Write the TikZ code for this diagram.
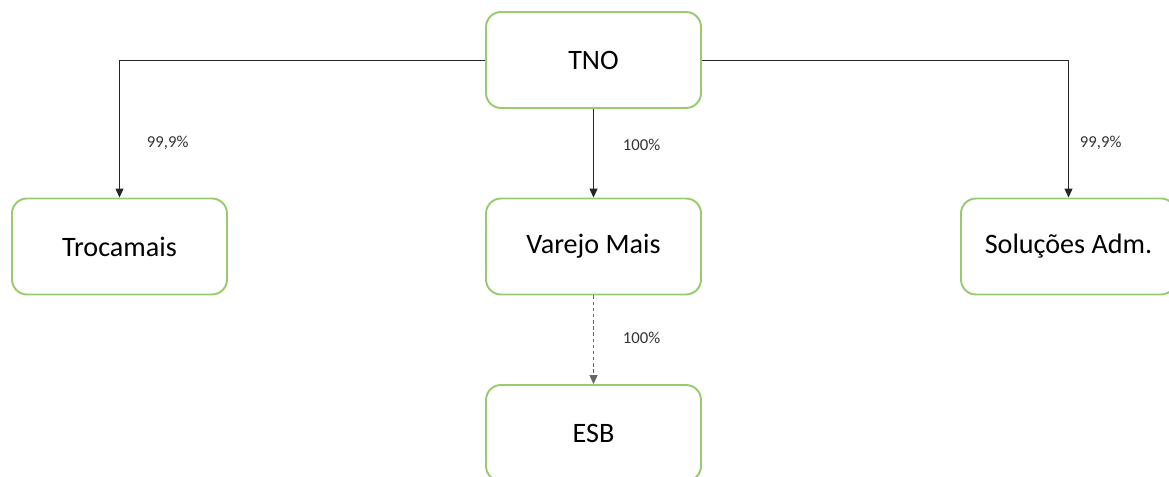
\documentclass[tikz,border=0pt]{standalone}
\usepackage{fontspec}
\setmainfont{Carlito}
\usetikzlibrary{shapes,arrows.meta,positioning,calc}
\usepackage{xcolor}
\definecolor{boxgreen}{RGB}{152,203,110}

\begin{document}
\begin{tikzpicture}[x=1cm, y=1cm]
    % Stile
    \tikzstyle{company} = [rectangle, draw=boxgreen, line width=1.1pt, rounded corners=0.3cm, minimum width=4.3cm, minimum height=1.92cm, text centered, font=\fontsize{16}{18}\selectfont]
    \tikzstyle{share} = [-{Triangle[width=4.5pt,length=5pt]}, line width=0.5pt, draw=black!85]
    \tikzstyle{pct} = [inner sep=0pt, font=\fontsize{9.5}{11}\selectfont, text=black!80]
    \useasboundingbox (0,0) rectangle (23.38,-9.54);

    % Empresas
    \node[company] (tno) at (11.87,-1.2) {TNO};
    \node[company] (trocamais) at (2.39,-4.93) {Trocamais};
    \node[company] (varejo) at (11.87,-4.93) {Varejo Mais};
    \node[company] (soluc) at (21.37,-4.93) {Soluções Adm.};
    \node[company] (esb) at (11.87,-8.66) {ESB};

    % Participações
    \draw[share] (tno.west) -| (trocamais.north) node[pct, pos=0.8, right=0.54cm] {99,9\%};
    \draw[share] (tno.south) -- (varejo.north) node[pct, pos=0.4, right=0.58cm] {100\%};
    \draw[share] (tno.east) -| (soluc.north) node[pct, pos=0.8, right=0.22cm] {99,9\%};
    \draw[share, draw=black!60, dash pattern=on 2pt off 1.5pt] (varejo.south) -- (esb.north) node[pct, pos=0.48, right=0.58cm] {100\%};
\end{tikzpicture}
\end{document}
